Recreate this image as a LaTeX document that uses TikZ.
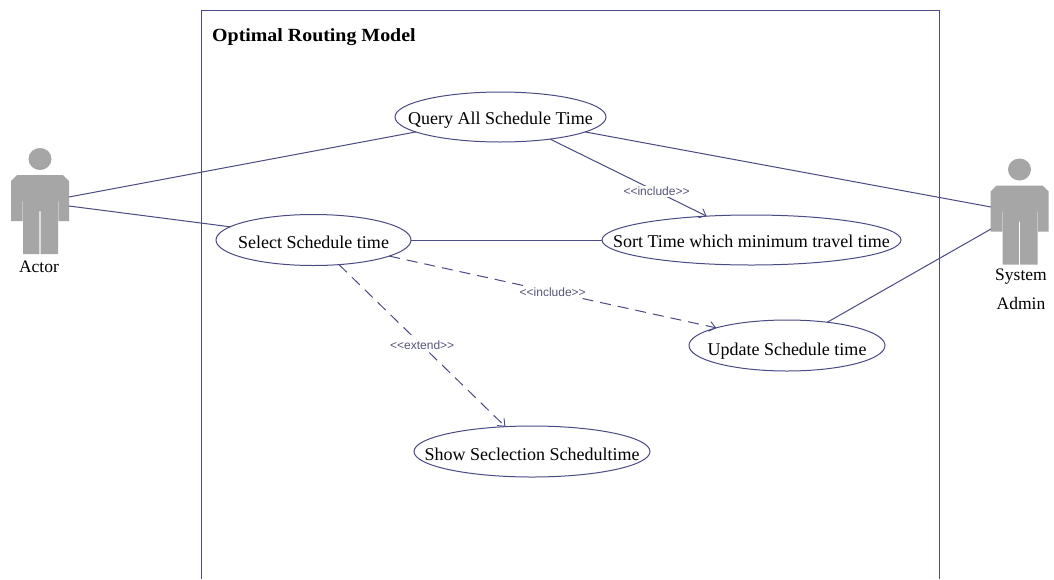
\documentclass[tikz,border=0pt]{standalone}
\usepackage{fontspec}
\setmainfont{Liberation Serif}
\newfontfamily\umlfont{Liberation Sans}
\newfontfamily\titlefont[FakeStretch=1.07]{Liberation Serif Bold}
\usetikzlibrary{arrows.meta,shapes.geometric}
\definecolor{umlline}{HTML}{4A4A85}
\definecolor{umllabel}{HTML}{55557A}
\definecolor{actorgrey}{HTML}{A6A6A6}
\tikzset{
  usecase/.style={draw=umlline,line width=1pt,ellipse,inner sep=0pt,outer sep=0pt,font=\fontsize{18}{20}\selectfont,text=black,fill=white},
  conn/.style={draw=umlline,line width=1pt},
  dep/.style={conn,-{Straight Barb[length=6pt,width=10pt,line width=0.9pt]}},
  depdash/.style={dep,dash pattern=on 11pt off 7pt},
  deplabel/.style={fill=white,inner sep=1.5pt,font=\umlfont\fontsize{12}{14}\selectfont,text=umllabel},
  actorlabel/.style={font=\fontsize{17.5}{20}\selectfont,text=black,inner sep=0pt,anchor=base}
}
\newcommand{\uctext}[2]{\makebox[0pt]{\smash{\raisebox{-#1pt}{#2}}}}
\newcommand{\actorfigure}[2]{%
  \begin{scope}[shift={(#1,#2)}]
    \fill[actorgrey] (40,159) ellipse [x radius=11.5,y radius=11];
    \fill[actorgrey] (17,175) -- (63,175) -- (69,181) -- (69,221) -- (58.5,221) -- (58.5,201) -- (58,201)
      -- (58,254) -- (40.7,254) -- (40.7,211) -- (39.3,211) -- (39.3,254) -- (23,254) -- (23,201) -- (22.7,201)
      -- (22.7,221) -- (11,221) -- (11,181) -- cycle;
  \end{scope}}
\begin{document}
\begin{tikzpicture}[x=1pt,y=-1pt]
\useasboundingbox (0,0) rectangle (1054,579);
\fill[white] (0,0) rectangle (1054,579);
% system frame (open at the bottom edge of the picture)
\draw[conn] (201,579) -- (201,10.5) -- (939,10.5) -- (939,579);
\node[anchor=base west,inner sep=0pt,font=\titlefont\fontsize{18.6}{20}\selectfont] (title) at (212,41) {Optimal Routing Model};
% actors
\actorfigure{0}{0}
\actorfigure{979.5}{10.5}
\node[actorlabel] (actor) at (39,272) {Actor};
\node[actorlabel] (sys) at (1021,280) {System};
\node[actorlabel] (adm) at (1021,309) {Admin};
\coordinate (a1) at (69,197);
\coordinate (a2) at (69,206);
\coordinate (b1) at (991,207);
\coordinate (b2) at (991,229);
% use cases
\node[usecase,minimum width=211pt,minimum height=50pt] (q) at (500.5,117) {\uctext{7.3}{Query All Schedule Time}};
\node[usecase,minimum width=195pt,minimum height=51pt] (s) at (313.5,240) {\uctext{8}{Select Schedule time}};
\node[usecase,minimum width=299pt,minimum height=50pt] (t) at (751.5,240) {\uctext{7.7}{Sort Time which minimum travel time}};
\node[usecase,minimum width=196pt,minimum height=51pt] (u) at (787,345.5) {\uctext{9.5}{Update Schedule time}};
\node[usecase,minimum width=236pt,minimum height=51pt] (w) at (532,451.5) {\uctext{9}{Show Seclection Schedultime}};
% connectors
\draw[conn] (a1) -- (q.190);
\draw[conn] (a2) -- (s.171.5);
\draw[conn] (q.-10) -- (b1);
\draw[conn] (u.30.4) -- (b2);
\draw[conn] (s.east) -- (t.west);
\draw[dep] (q.-24.8) -- node[deplabel,pos=0.68] {<<include>>} (t.152.7);
\draw[depdash] (s.-12.9) -- node[deplabel,pos=0.5] {<<include>>} (u.166.7);
\draw[depdash] (s.-44.4) -- node[deplabel,pos=0.5] {<<extend>>} (w.137.4);
\end{tikzpicture}
\end{document}
